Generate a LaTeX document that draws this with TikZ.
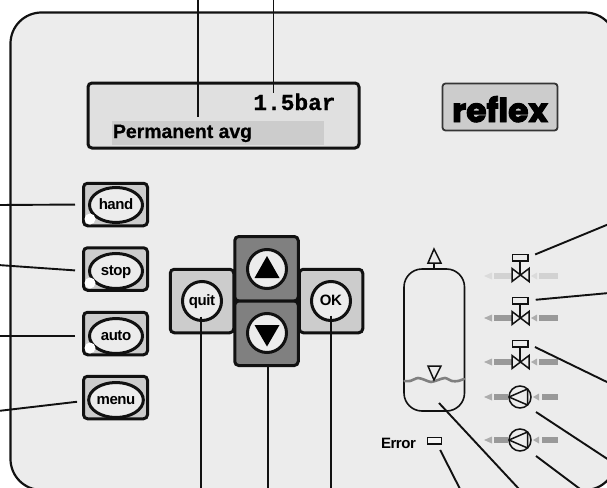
\documentclass[tikz,border=0pt]{standalone}
\usepackage{fontspec}
\usetikzlibrary{shapes.geometric,calc}
\setmainfont{Liberation Sans}
\newfontfamily\medfont[LetterSpace=-3]{Liberation Sans Bold}
\newfontfamily\heavyfont[FakeBold=0.8]{Liberation Sans Bold}
\newfontfamily\lcdfont[FakeBold=0.6]{Liberation Mono Bold}
\newfontfamily\logofont[FakeBold=3]{Poppins}
\definecolor{panelc}{HTML}{ECECEC}
\definecolor{lcdc}{HTML}{E0E0E0}
\definecolor{keyc}{HTML}{CCCCCC}
\definecolor{darkkey}{HTML}{808080}
\definecolor{inkc}{HTML}{111111}
\definecolor{flowc}{HTML}{999999}
\definecolor{flowlight}{HTML}{D2D2D2}
\tikzset{
  x=1pt,y=-1pt,
  every node/.style={inner sep=0pt,outer sep=0pt},
  lead/.style={draw=inkc,line width=1.9pt},
  keybox/.style={rectangle,draw=inkc,line width=3pt,rounded corners=4pt,fill=keyc},
  sidekey/.style={keybox,minimum width=64pt,minimum height=42.5pt},
  crosskey/.style={keybox,minimum width=63.5pt,minimum height=63.5pt},
  darkcross/.style={keybox,fill=darkkey,minimum width=63.5pt,minimum height=64.5pt},
  oval/.style={ellipse,draw=inkc,line width=3pt,fill=panelc,minimum width=53pt,minimum height=35pt,
    font=\medfont\fontsize{15}{15}\selectfont,text height=11pt,text depth=3pt},
  roundkey/.style={circle,draw=inkc,line width=3pt,fill=panelc,minimum size=39pt,
    font=\medfont\fontsize{15}{15}\selectfont,text height=11pt,text depth=3pt},
  lamp/.style={circle,fill=white,minimum size=11pt},
  sym/.style={draw=inkc,line width=1.5pt,fill=panelc},
  valvehead/.style={rectangle,sym,minimum width=15.5pt,minimum height=6.5pt},
  pumpc/.style={circle,sym,minimum size=22pt},
}
\newcommand{\flowrow}[5]{% y, colour, left bar end, right tip start, right bar start
  \fill[#2] (494,#1-2.6) rectangle (#3,#1+2.6);
  \fill[#2!80!white] (492,#1-3.5) -- (492,#1+3.5) -- (484,#1) -- cycle;
  \fill[#2!80!white] (#4+6,#1-3.5) -- (#4+6,#1+3.5) -- (#4,#1) -- cycle;
  \fill[#2] (#5,#1-2.6) rectangle (558,#1+2.6);
}
\newcommand{\valvebody}[1]{%
  \draw[sym] (512,#1-6.5) -- (529,#1+6.5) -- (529,#1-6.5) -- (512,#1+6.5) -- cycle;
}
\begin{document}
\begin{tikzpicture}
\clip (0,0) rectangle (607,487);
\fill[white] (0,0) rectangle (607,487);
% panel
\draw[draw=inkc,line width=2.2pt,fill=panelc,rounded corners=31pt] (10.5,12.5) rectangle (616,490);

% display
\node[rectangle,draw=inkc,line width=3pt,rounded corners=4pt,fill=lcdc,minimum width=271pt,minimum height=65pt] (lcd) at (223.5,115.5) {};
\fill[keyc] (112,121) rectangle (324,145);
\node[anchor=base west,font=\heavyfont\fontsize{19.4}{20}\selectfont,text=black] (msg) at (113,138) {Permanent avg};
\node[anchor=base east,font=\lcdfont\fontsize{22.8}{23}\selectfont,text=black] (press) at (335.5,110) {1.5bar};
\coordinate (topa) at (198,-2);
\coordinate (topb) at (273.5,-2);
\draw[lead] (topa) -- (198,117);
\draw[lead] (topb) -- (273.5,93);

% logo
\node[rectangle,draw=inkc!85,line width=1.8pt,rounded corners=3pt,fill=keyc,minimum width=115pt,minimum height=47pt] (logo) at (500,107) {};
\node[font=\logofont\bfseries\fontsize{33}{33}\selectfont,text=black,anchor=base] (brand) at (500,122) {reflex};

% side keys
\foreach \n/\txt/\by/\ey in {hand/hand/204.5/205,stop/stop/269/271,auto/auto/333.5/336,menu/menu/397.5/400}{
  \node[sidekey] (\n) at (115.5,\by) {};
  \node[oval] (\n oval) at (116,\ey) {\txt};
}
\node[lamp] (handled) at (90,219) {};
\node[lamp] (stopled) at (90,283) {};
\node[lamp] (autoled) at (90,348) {};
\coordinate (freea) at (-2,205);
\coordinate (freeb) at (-2,265);
\coordinate (freec) at (-2,336);
\coordinate (freed) at (-2,411);
\draw[lead,shorten <=8.5pt] (hand.west) -- (freea);
\draw[lead,shorten <=8.5pt] ([yshift=-2pt]stop.west) -- (freeb);
\draw[lead,shorten <=8.5pt] ([yshift=-2.5pt]auto.west) -- (freec);
\draw[lead,shorten <=6.5pt] ([yshift=-3.5pt]menu.west) -- (freed);

% cross keys
\node[crosskey] (quitk) at (202,301) {};
\node[crosskey] (okk) at (331,301) {};
\node[darkcross] (upk) at (266.5,268.75) {};
\node[darkcross] (downk) at (266.5,333.25) {};
\node[roundkey] (quit) at (202,301) {quit};
\node[roundkey] (ok) at (331,301) {OK};
\node[roundkey] (up) at (267,269) {};
\node[roundkey] (down) at (267,333) {};
\fill[black] (267,256) -- (279.5,278) -- (254.5,278) -- cycle;
\fill[black] (267,346.5) -- (279.5,325) -- (254.5,325) -- cycle;
\coordinate (freee) at (201,489);
\coordinate (freef) at (268,489);
\coordinate (freeg) at (331,489);
\draw[lead] ([xshift=-1pt,yshift=4pt]quit.south) -- (freee);
\draw[lead] ([xshift=1.5pt]downk.south) -- (freef);
\draw[lead] ([yshift=5pt]ok.south) -- (freeg);

% tank
\node[rectangle,draw=inkc,line width=1.6pt,rounded corners=18pt,minimum width=60.5pt,minimum height=142pt] (tank) at (434.25,340) {};
\draw[sym] (434,269) -- (434,263);
\draw[sym,line join=miter] (434,249) -- (441,263) -- (428,263) -- cycle;
\draw[darkkey,line width=2.6pt,line cap=round] plot[smooth] coordinates {(404.5,381) (410,381) (418,378) (425,380) (431,382) (438,380) (445,378) (452,381) (458,381) (464,379)};
\draw[sym,line join=miter] (428,366) -- (441,366) -- (434,380) -- cycle;
\coordinate (tanklead) at (439,403);
\coordinate (freeh) at (519,489);
\draw[lead] (tanklead) -- (freeh);

% flow arrows
\flowrow{276}{flowlight}{512}{531}{539}
\flowrow{318}{flowc}{512}{531}{539}
\flowrow{362}{flowc}{512}{531}{539}
\flowrow{397}{flowc}{508}{533}{542}
\flowrow{440}{flowc}{508}{533}{542}

% valves
\foreach \n/\hy/\cy in {va/257.5/275,vb/300.5/318,vc/343.5/362}{
  \draw[sym] (520,\hy) -- (520,\cy);
  \valvebody{\cy}
  \node[valvehead] (\n) at (520,\hy) {};
}
% pumps
\foreach \n/\cy in {pa/397,pb/440}{
  \node[pumpc] (\n) at (520,\cy) {};
  \draw[sym,fill=none,line join=round] (509,\cy) -- (527.5,\cy-8) -- (527.5,\cy+8) -- cycle;
}
\coordinate (freei) at (609,224);
\coordinate (freej) at (609,293);
\coordinate (freek) at (609,383);
\coordinate (freel) at (609,460);
\coordinate (freem) at (580,489);
\coordinate (freen) at (460,489);
\draw[lead,shorten <=8pt] (va.east) -- (freei);
\draw[lead,shorten <=8pt] (vb.east) -- (freej);
\draw[lead,shorten <=8pt] (vc.east) -- (freek);
\draw[lead] ($(pa.south)+(16,4)$) -- (freel);
\draw[lead] ($(pb.south)+(16,5)$) -- (freem);

% error
\node[anchor=base west,font=\medfont\fontsize{15}{15}\selectfont,text=black] (errt) at (381,448) {Error};
\node[rectangle,sym,fill=panelc!50!white,minimum width=14pt,minimum height=6.5pt] (errled) at (434.5,440.5) {};
\draw[lead,shorten <=7pt] ([xshift=2.5pt]errled.south) -- (freen);
\end{tikzpicture}
\end{document}
